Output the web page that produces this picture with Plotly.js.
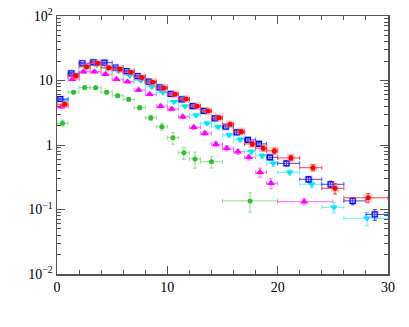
<!DOCTYPE html>
<html>
<head>
<meta charset="utf-8">
<script src="https://cdn.plot.ly/plotly-3.0.1.min.js"></script>
<style>
  html, body { margin: 0; padding: 0; background: #fff; }
  #plot { width: 409px; height: 327px; }
</style>
</head>
<body>
<div id="plot"></div>
<script>
// bin edges and values, one set per series
let redEdges = [0,1,2,3,4,5,6,7,8,9,10,11,12,13,14,15,16,17,18,19,20,22,24,26,30]
let redY = [4.28,11.7,16.4,18.5,15.8,14.9,13.4,11.1,9.4,7.65,6.1,5.17,4.0,3.37,2.65,2.09,1.61,1.04,0.89,0.81,0.63,0.445,0.213,0.152]
let redErr = [0.2,0.5,0.6,0.7,0.6,0.5,0.5,0.4,0.35,0.3,0.25,0.22,0.2,0.18,0.15,0.13,0.12,0.09,0.08,0.08,0.06,0.05,0.04,0.025]

let blueEdges = [0,1,2,3,4,5,6,7,8,9,10,11,12,13,14,15,16,17,18,19,20,22,24,26,28,30]
let blueY = [5.17,12.9,18.5,19.1,18.9,15.9,14.0,11.7,9.6,7.8,6.2,5.1,4.0,3.37,2.59,1.92,1.57,1.2,1.04,0.645,0.52,0.294,0.246,0.136,0.084]
let blueErr = [0.2,0.4,0.5,0.5,0.5,0.45,0.4,0.35,0.3,0.25,0.22,0.2,0.17,0.15,0.12,0.1,0.09,0.07,0.06,0.045,0.04,0.03,0.028,0.018,0.016]

let cyanEdges = [0,1,2,3,4,5,6,7,8,9,10,11,12,13,14,15,16,17,18,19,20,22,24,26,30]
let cyanY = [4.8,12,16,17.5,15.5,14,12,10,8.0,6.5,4.7,4.0,2.9,2.17,1.92,1.43,1.22,0.79,0.68,0.52,0.377,0.246,0.108,0.073]
let cyanErr = [0.2,0.4,0.5,0.5,0.45,0.4,0.35,0.3,0.25,0.22,0.2,0.18,0.15,0.12,0.11,0.1,0.09,0.07,0.06,0.05,0.035,0.03,0.02,0.017]

let magEdges = [0,1,2,3,4,5,6,7,8,9,10,11,12,13,14,15,16,17,18,19,20,25]
let magY = [3.93,10.5,13.7,13.7,12.5,10.5,9.6,7.1,6.1,4.0,3.6,2.75,1.88,1.52,1.03,0.89,0.787,0.645,0.377,0.255,0.132]
let magErr = [0.2,0.4,0.5,0.5,0.45,0.4,0.35,0.3,0.28,0.22,0.2,0.17,0.13,0.11,0.09,0.08,0.07,0.06,0.06,0.045,0.014]

let greenEdges = [0,1,2,3,4,5,6,7,8,9,10,11,12,13,15,20]
let greenY = [2.17,6.6,7.8,7.7,6.6,5.8,5.1,3.79,2.65,1.92,1.3,0.76,0.607,0.55,0.136]
let greenErr = [0.25,0.4,0.45,0.45,0.4,0.38,0.35,0.3,0.25,0.22,0.27,0.16,0.17,0.11,0.045]

// marker sits a little off the bin centre for each series
function series(edges, y, err, shift, marker, barColor, box) {
    let x = [], plus = [], minus = []
    for (let i = 0; i < y.length; i++) {
        let c = (edges[i] + edges[i+1]) / 2 + shift
        x.push(c)
        minus.push(c - edges[i])
        plus.push(edges[i+1] - c)
    }
    let out = []
    if (box) {
        out.push({
            x: x, y: y, type: "scatter", mode: "markers", hoverinfo: "skip",
            marker: {symbol: "square", size: 8, color: box, line: {width: 0}}
        })
    }
    out.push({
        x: x, y: y, type: "scatter", mode: "markers",
        marker: marker,
        error_x: {type: "data", array: plus, arrayminus: minus, color: barColor, thickness: 1, width: 2},
        error_y: {type: "data", array: err, color: barColor, thickness: 1, width: 2}
    })
    return out
}

let data = [].concat(
    series(greenEdges, greenY, greenErr, 0, {symbol: "circle", size: 5, color: "#33bb33"}, "#8fe08f"),
    series(magEdges, magY, magErr, -0.1, {symbol: "triangle-up", size: 7, color: "#ff00ff"}, "#ff66ff"),
    series(cyanEdges, cyanY, cyanErr, 0.1, {symbol: "triangle-down", size: 7, color: "#00e5ff"}, "#66f0ff"),
    series(blueEdges, blueY, blueErr, -0.2, {symbol: "square-open", size: 5, color: "#0000ff", line: {width: 1.2}}, "#4444ff", "rgba(150,150,255,0.3)"),
    series(redEdges, redY, redErr, 0.2, {symbol: "circle", size: 5, color: "#ff0000"}, "#ff4444", "rgba(255,110,110,0.35)")
)

// minor ticks on the log axis
let minorY = []
for (let d = -2; d < 2; d++) {
    for (let k = 2; k < 10; k++) minorY.push(k * Math.pow(10, d))
}

let tickFont = {family: "Times New Roman", size: 14, color: "#000"}

let layout = {
    width: 409,
    height: 327,
    margin: {l: 57, r: 21, t: 16, b: 53},
    paper_bgcolor: "#fff",
    plot_bgcolor: "#fff",
    showlegend: false,
    xaxis: {
        range: [0, 30],
        tickvals: [0, 10, 20, 30],
        ticks: "inside", ticklen: 8, tickcolor: "#555", tickwidth: 1,
        minor: {dtick: 2, ticks: "inside", ticklen: 4, tickcolor: "#555", showgrid: false},
        showline: true, linecolor: "#555", linewidth: 1.5, mirror: "ticks",
        showgrid: false, zeroline: false,
        tickfont: tickFont
    },
    yaxis: {
        type: "log",
        range: [-2, 2],
        tickvals: [0.01, 0.1, 1, 10, 100],
        ticktext: ["10<sup>\u22122</sup>", "10<sup>\u22121</sup>", "1", "10", "10<sup>2</sup>"],
        ticks: "inside", ticklen: 8, tickcolor: "#555", tickwidth: 1,
        minor: {tickmode: "array", tickvals: minorY, ticks: "inside", ticklen: 4, tickcolor: "#555", showgrid: false},
        showline: true, linecolor: "#555", linewidth: 1.5, mirror: "ticks",
        showgrid: false, zeroline: false,
        tickfont: tickFont
    }
}

Plotly.newPlot("plot", data, layout, {displayModeBar: false, staticPlot: true})
</script>
</body>
</html>
